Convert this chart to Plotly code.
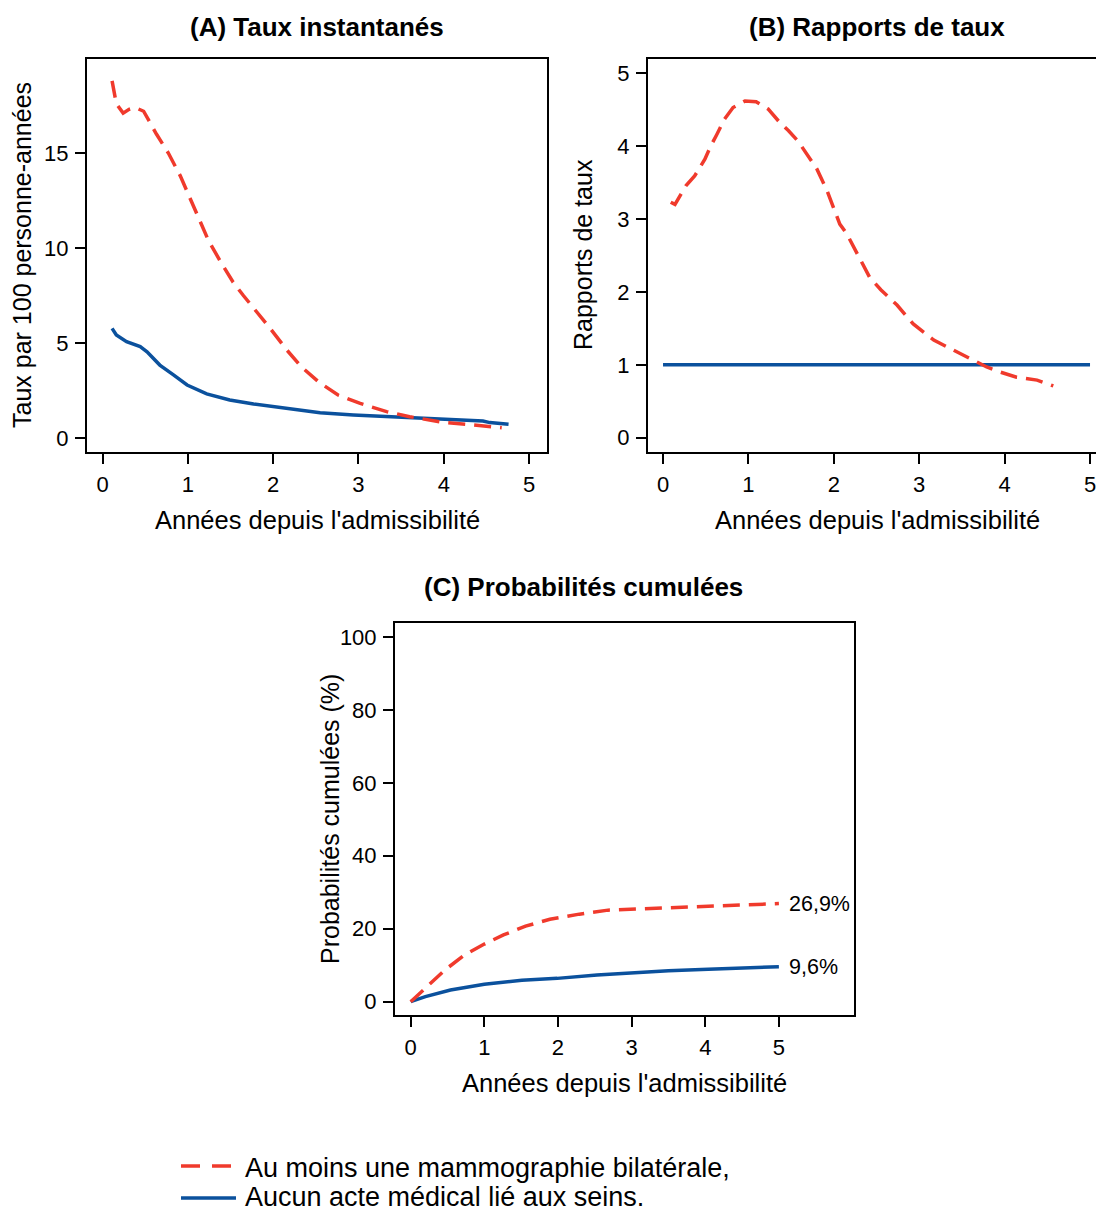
import plotly.graph_objects as go

# ---- data ----------------------------------------------------------------
# (A) instantaneous rates per 100 person-years
a_mammo_x = [0.11, 0.16, 0.24, 0.31, 0.38, 0.48, 0.63, 0.77, 0.91, 1.02, 1.12, 1.24, 1.38,
             1.53, 1.65, 1.84, 1.98, 2.16, 2.33, 2.53, 2.76, 3.02, 3.33, 3.60, 4.00, 4.27, 4.68]
a_mammo_y = [18.8, 17.6, 17.1, 17.3, 17.4, 17.2, 16.0, 15.0, 13.8, 12.7, 11.65, 10.4, 9.3,
             8.2, 7.5, 6.47, 5.68, 4.63, 3.75, 2.96, 2.26, 1.82, 1.39, 1.12, 0.82, 0.72, 0.54]
a_none_x = [0.11, 0.16, 0.28, 0.44, 0.52, 0.67, 0.83, 0.99, 1.22, 1.49, 1.77, 2.16, 2.55,
            2.94, 3.37, 3.64, 4.03, 4.46, 4.54, 4.76]
a_none_y = [5.77, 5.42, 5.07, 4.81, 4.54, 3.84, 3.32, 2.79, 2.32, 2.00, 1.79, 1.56, 1.33,
            1.21, 1.12, 1.04, 0.95, 0.89, 0.81, 0.72]

# (B) rate ratios
b_mammo_x = [0.09, 0.14, 0.27, 0.37, 0.49, 0.55, 0.63, 0.72, 0.82, 0.96, 1.09, 1.23, 1.37,
             1.47, 1.58, 1.68, 1.80, 1.92, 1.99, 2.07, 2.15, 2.25, 2.33, 2.42, 2.55, 2.74,
             2.93, 3.17, 3.32, 3.56, 3.79, 3.95, 4.14, 4.38, 4.57]
b_mammo_y = [3.23, 3.20, 3.46, 3.59, 3.82, 3.98, 4.16, 4.37, 4.53, 4.62, 4.61, 4.51, 4.32,
             4.21, 4.07, 3.89, 3.69, 3.39, 3.16, 2.93, 2.80, 2.57, 2.41, 2.20, 2.03, 1.82,
             1.56, 1.34, 1.25, 1.11, 0.97, 0.90, 0.83, 0.79, 0.71]
b_none_x = [0, 5]
b_none_y = [1, 1]

# (C) cumulative probabilities (%)
c_mammo_x = [0, 0.20, 0.465, 0.73, 1.00, 1.26, 1.56, 1.89, 2.29, 2.68, 3.36, 3.99, 5.00]
c_mammo_y = [0, 3.7, 8.7, 12.8, 15.8, 18.3, 20.7, 22.6, 24.0, 25.1, 25.6, 26.2, 26.9]
c_none_x = [0, 0.20, 0.54, 1.00, 1.51, 1.99, 2.53, 3.02, 3.50, 4.04, 4.71, 5.00]
c_none_y = [0, 1.4, 3.2, 4.8, 5.9, 6.4, 7.3, 7.9, 8.5, 8.9, 9.3, 9.6]

series_names = ["Au moins une mammographie bilatérale,", "Aucun acte médical lié aux seins."]
panel_titles = ["(A) Taux instantanés", "(B) Rapports de taux", "(C) Probabilités cumulées"]
x_title = "Années depuis l'admissibilité"
y_titles = ["Taux par 100 personne-années", "Rapports de taux", "Probabilités cumulées (%)"]
end_labels = ["26,9%", "9,6%"]

x_ticks = [0, 1, 2, 3, 4, 5]
a_y_ticks = [0, 5, 10, 15]
b_y_ticks = [0, 1, 2, 3, 4, 5]
c_y_ticks = [0, 20, 40, 60, 80, 100]

# ---- styling ---------------------------------------------------------------
W, H = 1096, 1213
FONT = "Arial, Liberation Sans, sans-serif"
RED = "#F03A2C"
BLUE = "#0B519D"
DASH = "17px,9px"
LW = 3.5


def px(x):
    return x / W


def py(y):
    return 1 - y / H


fig = go.Figure()

def add_pair(xa, ya, xb, yb, axis_suffix):
    fig.add_trace(go.Scatter(x=xb, y=yb, mode="lines", name=series_names[1],
                             line=dict(color=BLUE, width=LW),
                             xaxis="x" + axis_suffix, yaxis="y" + axis_suffix,
                             showlegend=False))
    fig.add_trace(go.Scatter(x=xa, y=ya, mode="lines", name=series_names[0],
                             line=dict(color=RED, width=LW, dash=DASH),
                             xaxis="x" + axis_suffix, yaxis="y" + axis_suffix,
                             showlegend=False))

add_pair(a_mammo_x, a_mammo_y, a_none_x, a_none_y, "")
add_pair(b_mammo_x, b_mammo_y, b_none_x, b_none_y, "2")
add_pair(c_mammo_x, c_mammo_y, c_none_x, c_none_y, "3")

tick_font = dict(family=FONT, size=22, color="black")
common = dict(showgrid=False, zeroline=False, showline=True, linecolor="black",
              linewidth=2, ticks="outside", ticklen=10, tickwidth=2,
              tickcolor="black", tickfont=tick_font, fixedrange=True,
              ticklabelstandoff=2)

# panel boxes in pixel coordinates: (left, right, top, bottom)
box_a = (87, 547, 59, 452)
box_b = (648, W, 59, 452)
box_c = (395, 854, 623, 1015)

fig.update_layout(
    xaxis=dict(domain=[px(box_a[0]), px(box_a[1])], range=[-0.184, 5.211],
               anchor="y", tickvals=x_ticks, mirror=True, **common),
    yaxis=dict(domain=[py(box_a[3]), py(box_a[2])], range=[-0.737, 19.95],
               anchor="x", tickvals=a_y_ticks, mirror=True, **common),
    # panel B runs off the right edge of the page
    xaxis2=dict(domain=[px(box_b[0]), 1.0], range=[-0.176, 5.07],
                anchor="y2", tickvals=x_ticks, mirror=True, ticklabeloverflow="allow",
                **common),
    yaxis2=dict(domain=[py(box_b[3]), py(box_b[2])], range=[-0.196, 5.195],
                anchor="x2", tickvals=b_y_ticks, mirror=False, **common),
    xaxis3=dict(domain=[px(box_c[0]), px(box_c[1])], range=[-0.213, 6.02],
                anchor="y3", tickvals=x_ticks, mirror=True, **common),
    yaxis3=dict(domain=[py(box_c[3]), py(box_c[2])], range=[-3.64, 103.8],
                anchor="x3", tickvals=c_y_ticks, mirror=True, **common),
)

annotations = []

def text(x, y, s, size, bold=False, xanchor="center", yanchor="middle", angle=0):
    annotations.append(dict(
        x=px(x), y=py(y), xref="paper", yref="paper", text=f"<b>{s}</b>" if bold else s,
        showarrow=False, xanchor=xanchor, yanchor=yanchor, textangle=angle, borderpad=0,
        font=dict(family=FONT, size=size, color="black")))

# panel titles
text(317, 27, panel_titles[0], 26, bold=True)
text(877, 27, panel_titles[1], 26, bold=True)
text(583, 587, panel_titles[2], 26, bold=True)

# axis titles
text(317, 520, x_title, 25.5)
text(877, 520, x_title, 25.5)
text(624, 1083, x_title, 25.5)
text(22, 255, y_titles[0], 25, angle=-90)
text(583, 255, y_titles[1], 25, angle=-90)
text(330, 819, y_titles[2], 25, angle=-90)

# end-of-curve values in panel C
annotations.append(dict(x=5.0, y=c_mammo_y[-1], xref="x3", yref="y3", text=end_labels[0],
                        showarrow=False, xanchor="left", yanchor="middle", xshift=8,
                        font=dict(family=FONT, size=21.5, color="black")))
annotations.append(dict(x=5.0, y=c_none_y[-1], xref="x3", yref="y3", text=end_labels[1],
                        showarrow=False, xanchor="left", yanchor="middle", xshift=8,
                        font=dict(family=FONT, size=21.5, color="black")))

# legend entries (second line sits on the bottom edge of the page)
text(244, 1168, series_names[0], 27, xanchor="left")
text(244, H, series_names[1], 27, xanchor="left", yanchor="bottom")

fig.add_shape(type="line", xref="paper", yref="paper",
              x0=px(181), x1=px(233), y0=py(1166), y1=py(1166),
              line=dict(color=RED, width=LW, dash="19px,12px"))
fig.add_shape(type="line", xref="paper", yref="paper",
              x0=px(181), x1=px(236), y0=py(1198), y1=py(1198),
              line=dict(color=BLUE, width=LW))

fig.update_layout(
    width=W, height=H, autosize=False,
    margin=dict(l=0, r=0, t=0, b=0),
    paper_bgcolor="white", plot_bgcolor="white",
    annotations=annotations, showlegend=False,
    font=dict(family=FONT, color="black"),
)

fig.write_html("out.html", config={"displayModeBar": False})
